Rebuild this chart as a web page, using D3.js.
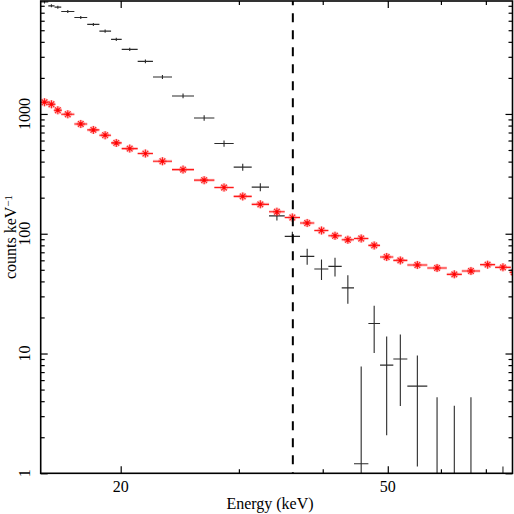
<!DOCTYPE html>
<html><head><meta charset="utf-8">
<script src="https://cdn.jsdelivr.net/npm/d3@7"></script>
<style>body{margin:0;background:#fff}svg text{font-family:"Liberation Serif","Times New Roman",serif;}</style>
</head><body>
<svg id="c" width="514" height="514"></svg>
<script>
// ---- data (energy in keV, counts per keV) ----
const binLo  = [15.20,15.60,15.94,16.31,17.06,17.83,18.59,19.35,20.07,21.20,22.34,23.85,25.72,27.58,29.47,31.35,33.27,35.11,37.00,38.86,40.78,42.69,44.53,46.78,48.69,50.96,53.47,57.26,61.22,64.46,68.63,72.26,76.26];
const binHi  = [15.60,15.94,16.31,17.06,17.83,18.59,19.35,20.07,21.20,22.34,23.85,25.72,27.58,29.47,31.35,33.27,35.11,37.00,38.86,40.78,42.69,44.53,46.78,48.69,50.96,53.47,57.26,61.22,64.46,68.63,72.26,76.26,80.36];
const binMid = [15.40,15.77,16.12,16.68,17.44,18.21,18.96,19.70,20.63,21.77,23.08,24.77,26.63,28.51,30.40,32.29,34.18,36.04,37.92,39.83,41.72,43.60,45.64,47.72,49.81,52.20,55.34,59.21,62.82,66.51,70.42,74.23,77.00];

const blackCounts = [8600,7990,7795,7175,6394,5591,4917,4194,3461,2749,2034,1413,926,566,360,245,141,95,64.7,50.8,53.4,35.3,1.2,17.8,8.0,9.0,5.34,0.3,0.3,0.3,null,0.3,null];
const blackLo     = [8350,7760,7570,6975,6215,5430,4775,4065,3350,2655,1955,1350,878,532,336,226,129,86,55,41,44,26,0.05,10.1,2.08,3.64,1.14,0.01,0.01,0.01,null,0.01,null];
const blackHi     = [8850,8220,8020,7375,6575,5750,5060,4325,3570,2845,2115,1480,975,600,384,264,153,104,75,61,63,45,7.8,25.1,13.9,14.4,9.62,4.32,3.66,4.32,null,1.14,null];

const redCounts = [1252,1205,1074,994,825,736,665,573,514,467,403,343,280,243,205,176,152.5,136.7,122.8,106.5,96.2,89.1,91.3,79.9,63.9,59.9,54.8,51.8,45.8,48.9,55.2,52.4,47.6];
const redErr    = [40,38,34,31,26,23,21,18,16,15,13,11,9,8,7,6,5.5,5,4.6,4.2,3.9,3.7,3.8,3.4,2.9,2.8,2.6,2.5,2.3,2.4,2.6,2.5,2.3];

const xTickLabels = [20, 50];
const xMinorTicks = [30, 40, 60, 70];
const yTickLabels = [1, 10, 100, 1000];
const yMinorTicks = [2,3,4,5,6,7,8,9,20,30,40,50,60,70,80,90,200,300,400,500,600,700,800,900,2000,3000,4000,5000,6000,7000,8000];
const markerEnergy = 36.1;

// ---- scales ----
const svg = d3.select("#c");
const L = 40.7, R = 512.5, T = 1, B = 473.3;
const x = d3.scaleLog().domain([15.2, 76.7]).range([L, R]);
const y = d3.scaleLog().domain([1, 8770]).range([B, T]);

svg.append("defs").append("clipPath").attr("id","clip")
  .append("rect").attr("x",L).attr("y",T).attr("width",R-L).attr("height",B-T);

const plot = svg.append("g").attr("clip-path","url(#clip)");

// black series (error crosses)
const blk = blackCounts.map((v,i)=>({v, lo:blackLo[i], hi:blackHi[i], e0:binLo[i], e1:binHi[i], e:binMid[i]})).filter(d=>d.v!==null);
const gb = plot.append("g").attr("stroke","#2a2a2a").attr("stroke-width",1.1).attr("fill","none");
gb.selectAll("line.h").data(blk).join("line").attr("class","h")
  .attr("x1",d=>x(d.e0)).attr("x2",d=>x(d.e1)).attr("y1",d=>y(d.v)).attr("y2",d=>y(d.v));
gb.selectAll("line.v").data(blk).join("line").attr("class","v")
  .attr("x1",d=>x(d.e)).attr("x2",d=>x(d.e)).attr("y1",d=>y(d.lo)).attr("y2",d=>y(d.hi));

// red series
const red = redCounts.map((v,i)=>({v, err:redErr[i], e0:binLo[i], e1:binHi[i], e:binMid[i]}));
const gr = plot.append("g");
gr.selectAll("line.hh").data(red).join("line")
  .attr("x1",d=>x(d.e0)).attr("x2",d=>x(d.e1)).attr("y1",d=>y(d.v)).attr("y2",d=>y(d.v))
  .attr("stroke","rgba(255,60,60,0.28)").attr("stroke-width",3);
gr.selectAll("circle.halo").data(red).join("circle")
  .attr("cx",d=>x(d.e)).attr("cy",d=>y(d.v)).attr("r",4.2)
  .attr("fill","rgba(255,70,70,0.33)");
gr.selectAll("line.h").data(red).join("line")
  .attr("x1",d=>x(d.e0)).attr("x2",d=>x(d.e1)).attr("y1",d=>y(d.v)).attr("y2",d=>y(d.v))
  .attr("stroke","#ff1a1a").attr("stroke-width",1.1);
gr.selectAll("line.v").data(red).join("line")
  .attr("x1",d=>x(d.e)).attr("x2",d=>x(d.e)).attr("y1",d=>y(d.v-d.err)).attr("y2",d=>y(d.v+d.err))
  .attr("stroke","#ff1a1a").attr("stroke-width",1.1);
const star = "M-4,0L4,0M0,-4L0,4M-2.8,-2.8L2.8,2.8M-2.8,2.8L2.8,-2.8";
gr.selectAll("path.s").data(red).join("path")
  .attr("transform",d=>`translate(${x(d.e)},${y(d.v)})`)
  .attr("d",star).attr("stroke","#ff2020").attr("stroke-width",1.1).attr("fill","none");
gr.selectAll("circle.c").data(red).join("circle")
  .attr("cx",d=>x(d.e)).attr("cy",d=>y(d.v)).attr("r",1.4).attr("fill","#ff0000");

// dashed vertical marker
svg.append("line").attr("x1",x(markerEnergy)).attr("x2",x(markerEnergy))
  .attr("y1",T).attr("y2",B).attr("stroke","#000").attr("stroke-width",2)
  .attr("stroke-dasharray","9,8").attr("stroke-dashoffset",4.7);

// axes
function styleAxis(g){ g.select(".domain").remove(); g.selectAll(".tick line").attr("stroke","#000").attr("stroke-width",1.2); g.selectAll("text").remove(); }
const fmtNone = ()=>"";
svg.append("g").attr("transform",`translate(0,${B})`).call(d3.axisBottom(x).tickValues(xTickLabels).tickSizeInner(-7).tickSizeOuter(0).tickFormat(fmtNone)).call(styleAxis);
svg.append("g").attr("transform",`translate(0,${B})`).call(d3.axisBottom(x).tickValues(xMinorTicks).tickSizeInner(-4).tickSizeOuter(0).tickFormat(fmtNone)).call(styleAxis);
svg.append("g").attr("transform",`translate(0,${T})`).call(d3.axisTop(x).tickValues(xTickLabels).tickSizeInner(-7).tickSizeOuter(0).tickFormat(fmtNone)).call(styleAxis);
svg.append("g").attr("transform",`translate(0,${T})`).call(d3.axisTop(x).tickValues(xMinorTicks).tickSizeInner(-4).tickSizeOuter(0).tickFormat(fmtNone)).call(styleAxis);
svg.append("g").attr("transform",`translate(${L},0)`).call(d3.axisLeft(y).tickValues(yTickLabels).tickSizeInner(-7).tickSizeOuter(0).tickFormat(fmtNone)).call(styleAxis);
svg.append("g").attr("transform",`translate(${L},0)`).call(d3.axisLeft(y).tickValues(yMinorTicks).tickSizeInner(-4).tickSizeOuter(0).tickFormat(fmtNone)).call(styleAxis);
svg.append("g").attr("transform",`translate(${R},0)`).call(d3.axisRight(y).tickValues(yTickLabels).tickSizeInner(-7).tickSizeOuter(0).tickFormat(fmtNone)).call(styleAxis);
svg.append("g").attr("transform",`translate(${R},0)`).call(d3.axisRight(y).tickValues(yMinorTicks).tickSizeInner(-4).tickSizeOuter(0).tickFormat(fmtNone)).call(styleAxis);

// frame
svg.append("rect").attr("x",L).attr("y",T).attr("width",R-L).attr("height",B-T)
  .attr("fill","none").attr("stroke","#000").attr("stroke-width",1.6);

// tick labels
svg.append("g").selectAll("text").data(xTickLabels).join("text")
  .attr("x",d=>x(d)).attr("y",491.5).attr("text-anchor","middle")
  .attr("font-size",16).text(d=>d);
svg.append("g").selectAll("text").data(yTickLabels).join("text")
  .attr("transform",d=>`translate(30,${y(d)}) rotate(-90)`).attr("text-anchor","middle")
  .attr("font-size",16).text(d=>d);

// axis titles
svg.append("text").attr("x",270).attr("y",509).attr("text-anchor","middle").attr("font-size",16).text("Energy (keV)");
const yt = svg.append("text").attr("transform","translate(15.5,237) rotate(-90)").attr("text-anchor","middle").attr("font-size",16);
yt.append("tspan").text("counts keV");
yt.append("tspan").attr("dy",-4).attr("font-size",11).text("\u22121");
</script>
</body></html>
